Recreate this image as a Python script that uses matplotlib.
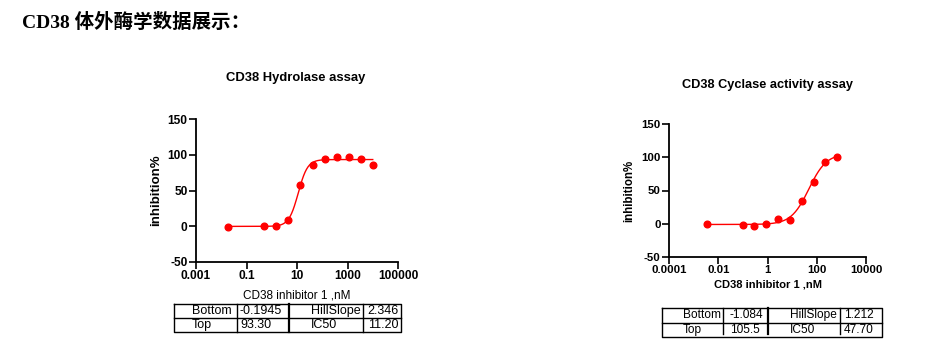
import numpy as np
import matplotlib
matplotlib.use("Agg")
import matplotlib.pyplot as plt

plt.rcParams['font.family'] = ['Liberation Sans', 'DejaVu Sans']
plt.rcParams['axes.unicode_minus'] = False

# ---- data
hyd_conc = [0.0188, 0.508, 1.52, 4.57, 13.7, 41.2, 123, 370, 1111, 3333, 10000]
hyd_inh = [-0.8, 0.6, 0.6, 8.3, 58.2, 85.0, 94.0, 96.8, 96.8, 94.4, 85.6]
hyd_fit = {"Bottom": -0.1945, "Top": 93.30, "HillSlope": 2.346, "IC50": 11.20}
hyd_txt = ["-0.1945", "93.30", "2.346", "11.20"]

cyc_conc = [0.0036, 0.10, 0.295, 0.89, 2.7, 8.1, 25, 74, 222, 666]
cyc_inh = [-0.4, -1.4, -3.9, -0.9, 6.6, 5.6, 34.2, 62.8, 93.4, 99.9]
cyc_fit = {"Bottom": -1.084, "Top": 105.5, "HillSlope": 1.212, "IC50": 47.70}
cyc_txt = ["-1.084", "105.5", "1.212", "47.70"]

y_ticks = [-50, 0, 50, 100, 150]
red = "#ff0000"


def four_pl(x, p):
    return p["Bottom"] + (p["Top"] - p["Bottom"]) / (1 + 10 ** ((np.log10(p["IC50"]) - np.log10(x)) * p["HillSlope"]))


fig = plt.figure(figsize=(9.38, 3.58), dpi=100)
W, H = 938, 358


def px_axes(x0, y0, x1, y1):
    return fig.add_axes([x0 / W, 1 - y1 / H, (x1 - x0) / W, (y1 - y0) / H])


def dose_plot(ax, conc, inh, fit, xmin, xmax, xticks, xlabels, tick_fs, ylab_fs, xlab_fs, xlab_w, xlab_pad):
    xs = np.logspace(np.log10(min(conc)), np.log10(max(conc)), 300)
    ax.plot(xs, four_pl(xs, fit), color=red, lw=1.0)
    ax.plot(conc, inh, 'o', color=red, ms=4.8, mec=red)
    ax.set_xscale('log')
    ax.set_xlim(xmin, xmax)
    ax.set_ylim(-50, 150)
    ax.set_xticks(xticks)
    ax.set_xticklabels(xlabels)
    ax.xaxis.set_minor_locator(matplotlib.ticker.NullLocator())
    ax.set_yticks(y_ticks)
    for s in ['top', 'right']:
        ax.spines[s].set_visible(False)
    for s in ['left', 'bottom']:
        ax.spines[s].set_linewidth(1.3)
    ax.tick_params(length=5, width=1.2, labelsize=tick_fs, pad=1)
    for lab in ax.get_xticklabels() + ax.get_yticklabels():
        lab.set_fontweight('bold')
    ax.set_xlabel("CD38 inhibitor 1 ,nM", fontsize=xlab_fs, fontweight=xlab_w, labelpad=xlab_pad)
    ax.set_ylabel("inhibition%", fontsize=ylab_fs, fontweight='bold', labelpad=4)


ax1 = px_axes(196, 119, 398, 262)
dose_plot(ax1, hyd_conc, hyd_inh, hyd_fit, 1e-3, 1e5,
          [1e-3, 1e-1, 1e1, 1e3, 1e5], ["0.001", "0.1", "10", "1000", "100000"],
          8.6, 9.5, 8.5, 'normal', 5)
ax2 = px_axes(669, 124, 866, 257)
dose_plot(ax2, cyc_conc, cyc_inh, cyc_fit, 1e-4, 1e4,
          [1e-4, 1e-2, 1e0, 1e2, 1e4], ["0.0001", "0.01", "1", "100", "10000"],
          8.2, 8.3, 8, 'bold', 3)

# overlay in pixel coordinates for titles and tables
ov = fig.add_axes([0, 0, 1, 1])
ov.set_xlim(0, W)
ov.set_ylim(H, 0)
ov.axis('off')

ov.text(22, 22, "CD38 体外酶学数据展示：", fontsize=14, fontweight='bold',
        family=['Liberation Serif', 'Noto Sans CJK SC'], va='center', ha='left')
ov.text(296, 78, "CD38 Hydrolase assay", fontsize=9.4, fontweight='bold', ha='center', va='center')
ov.text(767, 85, "CD38 Cyclase activity assay", fontsize=9.2, fontweight='bold', ha='center', va='center')


def param_table(x0, x1, y0, y1, cols, vals, fs, lpad, vpad, rpad, vgap=0):
    ym = (y0 + y1) / 2
    ov.plot([x0, x1, x1, x0, x0], [y0, y0, y1, y1, y0], color='black', lw=1.0)
    ov.plot([x0, x1], [ym, ym], color='black', lw=1.0)
    for i, c in enumerate(cols):
        ov.plot([c, c], [y0, y1 - vgap], color='black', lw=1.6 if i == 1 else 1.0)
    rows = [(y0 + ym) / 2, (ym + y1) / 2]
    ov.text(x0 + lpad, rows[0], "Bottom", fontsize=fs, ha='left', va='center')
    ov.text(x0 + lpad, rows[1], "Top", fontsize=fs, ha='left', va='center')
    ov.text(cols[0] + vpad, rows[0], vals[0], fontsize=fs, ha='left', va='center')
    ov.text(cols[0] + vpad, rows[1], vals[1], fontsize=fs, ha='left', va='center')
    ov.text(cols[1] + 22, rows[0], "HillSlope", fontsize=fs, ha='left', va='center')
    ov.text(cols[1] + 22, rows[1], "IC50", fontsize=fs, ha='left', va='center')
    ov.text(x1 - rpad, rows[0], vals[2], fontsize=fs, ha='right', va='center')
    ov.text(x1 - rpad, rows[1], vals[3], fontsize=fs, ha='right', va='center')


param_table(174, 401, 304, 332, [237, 289, 363], hyd_txt, 9, 18, 3, 2)
param_table(662, 882, 308, 337, [723, 768, 840], cyc_txt, 8.6, 21, 7, 8, vgap=3)

fig.savefig("out.png", dpi=100)
